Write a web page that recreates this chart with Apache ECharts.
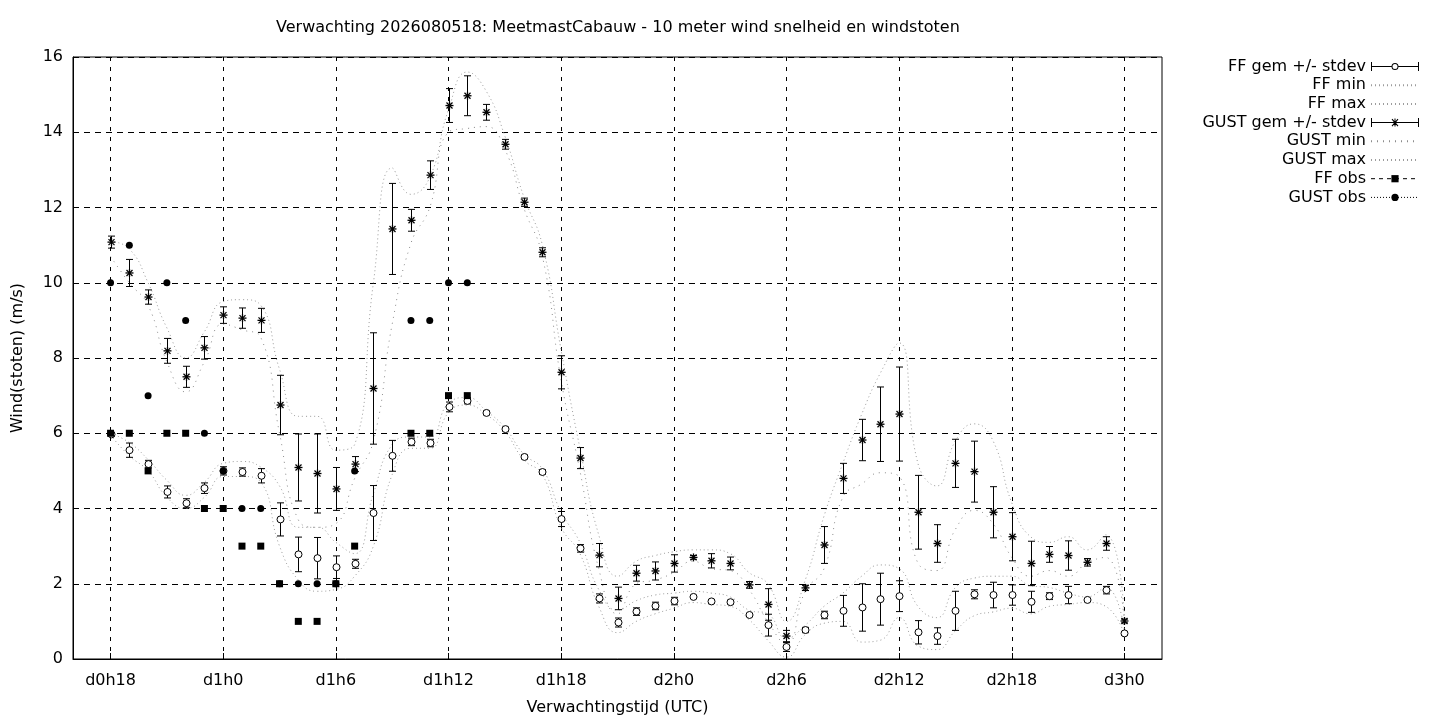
<!DOCTYPE html>
<html><head><meta charset="utf-8">
<script src="https://cdn.jsdelivr.net/npm/echarts@6/dist/echarts.min.js"></script>
<style>html,body{margin:0;padding:0;background:#fff}#c{width:1440px;height:720px}</style>
</head><body><div id="c"></div>
<script>
// x-axis categories: forecast hours d0h16 .. d3h2
const categories = ['d0h16','d0h17','d0h18','d0h19','d0h20','d0h21','d0h22','d0h23',
 'd1h0','d1h1','d1h2','d1h3','d1h4','d1h5','d1h6','d1h7','d1h8','d1h9','d1h10','d1h11',
 'd1h12','d1h13','d1h14','d1h15','d1h16','d1h17','d1h18','d1h19','d1h20','d1h21','d1h22','d1h23',
 'd2h0','d2h1','d2h2','d2h3','d2h4','d2h5','d2h6','d2h7','d2h8','d2h9','d2h10','d2h11',
 'd2h12','d2h13','d2h14','d2h15','d2h16','d2h17','d2h18','d2h19','d2h20','d2h21','d2h22','d2h23',
 'd3h0','d3h1','d3h2'];
const firstHour = 'd0h18';
const xTickLabels = ['d0h18','d1h0','d1h6','d1h12','d1h18','d2h0','d2h6','d2h12','d2h18','d3h0'];
const yTicks = [0,2,4,6,8,10,12,14,16];

// forecast series, hourly from d0h18 to d3h0
const ffMean = [5.97,5.55,5.18,4.44,4.14,4.54,5.00,4.97,4.87,3.71,
 2.78,2.68,2.44,2.53,3.88,5.40,5.77,5.74,6.70,6.86,
 6.54,6.11,5.37,4.97,3.72,2.94,1.61,0.97,1.26,1.41,
 1.54,1.65,1.53,1.51,1.17,0.90,0.32,0.77,1.17,1.28,
 1.37,1.59,1.67,0.71,0.61,1.28,1.72,1.70,1.70,1.52,
 1.67,1.70,1.57,1.83,0.68];
const ffSd = [0.05,0.19,0.10,0.16,0.12,0.14,0.11,0.11,0.19,0.44,
 0.46,0.55,0.30,0.12,0.73,0.41,0.10,0.10,0.13,0.08,
 0.05,0.05,0.05,0.06,0.20,0.10,0.12,0.12,0.10,0.10,
 0.10,0.04,0.05,0.05,0.03,0.29,0.12,0.07,0.10,0.41,
 0.63,0.69,0.41,0.31,0.22,0.52,0.12,0.34,0.27,0.28,
 0.09,0.23,0.03,0.10,0.05];
const ffMin = [5.95,5.40,5.00,4.30,4.00,4.30,4.85,4.85,4.70,3.00,
 2.10,1.80,1.85,2.20,3.00,4.90,5.60,5.60,6.55,6.75,
 6.50,6.05,5.30,4.90,3.50,2.80,1.40,0.70,1.00,1.20,
 1.35,1.50,1.45,1.40,1.05,0.50,0.05,0.65,0.95,1.00,
 0.45,0.50,1.10,0.35,0.25,0.75,1.15,1.25,1.35,1.20,
 1.40,1.45,1.50,1.40,0.65];
const ffMax = [6.00,5.75,5.30,4.75,4.35,4.70,5.20,5.25,5.10,4.60,
 3.50,3.50,3.10,2.80,4.40,5.70,5.90,5.90,6.80,6.95,
 6.60,6.15,5.45,5.05,3.90,3.10,1.85,1.30,1.55,1.70,
 1.75,1.80,1.75,1.65,1.30,1.20,0.55,0.90,1.40,1.75,
 2.20,2.50,2.40,1.40,1.10,1.90,2.15,2.20,2.20,1.95,
 1.90,1.75,1.65,1.90,0.75];
const gustMean = [11.08,10.26,9.62,8.19,7.50,8.27,9.14,9.06,9.00,6.75,
 5.09,4.93,4.52,5.18,7.19,11.43,11.66,12.86,14.71,14.97,
 14.53,13.68,12.14,10.81,7.62,5.34,2.76,1.61,2.28,2.34,
 2.54,2.70,2.61,2.54,1.97,1.45,0.61,1.89,3.03,4.80,
 5.82,6.24,6.51,3.90,3.07,5.20,4.98,3.90,3.25,2.54,
 2.78,2.75,2.57,3.07,1.01];
const gustSd = [0.16,0.36,0.19,0.33,0.28,0.30,0.22,0.27,0.32,0.79,
 0.89,1.05,0.57,0.20,1.48,1.21,0.29,0.38,0.45,0.53,
 0.21,0.13,0.11,0.12,0.44,0.28,0.31,0.30,0.21,0.24,
 0.23,0.05,0.19,0.17,0.09,0.42,0.15,0.07,0.49,0.40,
 0.55,0.99,1.25,0.98,0.50,0.64,0.81,0.68,0.64,0.59,
 0.21,0.39,0.10,0.18,0.05];
const gustMin = [10.70,10.00,9.40,7.90,7.10,7.90,8.90,8.75,8.55,6.00,
 3.70,3.50,3.60,4.80,5.80,8.90,11.05,12.00,14.00,14.10,
 14.15,13.55,12.00,10.70,7.40,5.00,2.40,1.20,2.00,2.10,
 2.30,2.60,2.40,2.35,1.85,1.00,0.40,1.80,2.40,4.30,
 4.65,4.95,4.85,2.55,2.35,3.45,3.95,3.60,2.70,2.20,
 2.35,2.20,2.55,2.70,0.95];
const gustMax = [11.10,10.90,10.00,8.80,8.00,8.70,9.50,9.55,9.40,7.70,
 6.45,6.45,5.55,5.70,10.00,13.05,12.35,12.80,14.60,15.60,
 15.10,13.90,12.30,11.00,8.20,5.60,3.30,2.20,2.60,2.75,
 2.85,2.90,2.90,2.80,2.30,2.00,1.00,2.10,3.80,5.20,
 6.50,7.60,8.40,5.20,4.60,5.80,6.25,5.80,4.15,3.25,
 3.10,3.25,2.90,3.30,1.10];
// observations, hourly from d0h18 to d1h13
const ffObs = [6,6,5,6,6,4,4,3,3,2,1,1,2,3,null,null,6,6,7,7];
const gustObs = [10,11,7,10,9,6,5,4,4,2,2,2,2,5,null,null,9,9,10,10];

const FONT = 'DejaVu Sans';
const FS = 16;
const off = categories.indexOf(firstHour);
const pairs = arr => arr.map((v, i) => v == null ? null : [i + off, v]).filter(d => d);
const triples = (m, s) => m.map((v, i) => [i + off, v, s[i]]);

function errRender(kind) {
  return function (params, api) {
    const i = api.value(0), m = api.value(1), s = api.value(2);
    const c = api.coord([i, m]);
    const t = api.coord([i, m + s]);
    const b = api.coord([i, m - s]);
    const x = Math.round(c[0]) + 0.5;
    const hw = 3.5;
    const st = {stroke: '#000', lineWidth: 1};
    const ch = [
      {type: 'line', shape: {x1: x, y1: t[1], x2: x, y2: b[1]}, style: st},
      {type: 'line', shape: {x1: x - hw, y1: t[1], x2: x + hw, y2: t[1]}, style: st},
      {type: 'line', shape: {x1: x - hw, y1: b[1], x2: x + hw, y2: b[1]}, style: st}
    ];
    const y = c[1];
    if (kind === 'ff') {
      ch.push({type: 'circle', shape: {cx: x, cy: y, r: 3.5}, style: {fill: '#fff', stroke: '#000', lineWidth: 1}});
    } else {
      const r = 4, d = 3;
      const sst = {stroke: '#000', lineWidth: 1.3};
      ch.push({type: 'line', shape: {x1: x - r, y1: y, x2: x + r, y2: y}, style: sst});
      ch.push({type: 'line', shape: {x1: x, y1: y - r, x2: x, y2: y + r}, style: sst});
      ch.push({type: 'line', shape: {x1: x - d, y1: y - d, x2: x + d, y2: y + d}, style: sst});
      ch.push({type: 'line', shape: {x1: x - d, y1: y + d, x2: x + d, y2: y - d}, style: sst});
    }
    return {type: 'group', children: ch};
  };
}

const ffIcon = 'path://M0 0H1V9H0Z M47 0H48V9H47Z M1 4H20.5V5H1Z M27.5 4H47V5H27.5Z ' +
  'M20.5 4.5A3.5 3.5 0 1 1 27.5 4.5A3.5 3.5 0 1 1 20.5 4.5Z M21.5 4.5A2.5 2.5 0 1 0 26.5 4.5A2.5 2.5 0 1 0 21.5 4.5Z';
const gustIcon = 'path://M0 0H1V9H0Z M47 0H48V9H47Z M1 4H47V5H1Z M23.5 0.5H24.5V8.5H23.5Z ' +
  'M20.6 1.4L21.4 0.6L27.4 7.6L26.6 8.4Z M26.6 0.6L27.4 1.4L21.4 8.4L20.6 7.6Z';
const noSymbol = {color: 'rgba(0,0,0,0)', opacity: 0, borderWidth: 0};

const isMajor = (idx) => xTickLabels.indexOf(categories[idx]) >= 0;

const lineCommon = {type: 'line', smooth: 0.5, symbol: 'none', silent: true, z: 2};
const GREY = '#9c9c9c';

const option = {
  animation: false,
  backgroundColor: '#fff',
  textStyle: {fontFamily: FONT, color: '#000'},
  title: {
    text: 'Verwachting 2026080518: MeetmastCabauw - 10 meter wind snelheid en windstoten',
    left: 276, top: 20, padding: 0,
    textStyle: {fontFamily: FONT, fontSize: FS, fontWeight: 'normal', color: '#000'}
  },
  grid: {left: 73, right: 278, top: 57, bottom: 61, show: true, borderColor: '#000', borderWidth: 1,
    containLabel: false, outerBoundsMode: 'none'},
  legend: {
    orient: 'vertical', right: 20, top: 58, align: 'right', padding: 0,
    itemWidth: 48, itemHeight: 9, itemGap: 1.7, selectedMode: false,
    textStyle: {fontFamily: FONT, fontSize: FS, color: '#000', lineHeight: 17},
    data: [
      {name: 'FF gem +/- stdev', icon: ffIcon},
      {name: 'FF min', itemStyle: noSymbol},
      {name: 'FF max', itemStyle: noSymbol},
      {name: 'GUST gem +/- stdev', icon: gustIcon},
      {name: 'GUST min', itemStyle: noSymbol},
      {name: 'GUST max', itemStyle: noSymbol},
      {name: 'FF obs', lineStyle: {width: 1, type: [4, 4], color: '#000', opacity: 1}},
      {name: 'GUST obs', lineStyle: {width: 1, type: [1, 2], color: '#000', opacity: 1}}
    ]
  },
  xAxis: {
    type: 'category', data: categories, boundaryGap: false,
    name: 'Verwachtingstijd (UTC)', nameLocation: 'middle', nameGap: 41,
    nameTextStyle: {fontFamily: FONT, fontSize: FS, color: '#000'},
    axisLine: {lineStyle: {color: '#000', width: 1}},
    axisTick: {show: true, inside: true, length: 6, interval: (i) => isMajor(i), lineStyle: {color: '#000'}},
    axisLabel: {interval: (i) => isMajor(i), margin: 14, fontFamily: FONT, fontSize: FS, color: '#000'},
    splitLine: {show: true, interval: (i) => isMajor(i), lineStyle: {color: '#000', width: 1, type: [4, 6]}}
  },
  yAxis: {
    type: 'value', min: yTicks[0], max: yTicks[yTicks.length - 1], interval: 2,
    name: 'Wind(stoten) (m/s)', nameLocation: 'middle', nameGap: 47,
    nameTextStyle: {fontFamily: FONT, fontSize: FS, color: '#000'},
    axisLine: {show: true, lineStyle: {color: '#000', width: 1}},
    axisTick: {show: true, inside: true, length: 6, lineStyle: {color: '#000'}},
    axisLabel: {margin: 10, fontFamily: FONT, fontSize: FS, color: '#000'},
    splitLine: {show: true, lineStyle: {color: '#000', width: 1, type: [6, 5]}}
  },
  series: [
    {name: 'FF gem +/- stdev', type: 'custom', renderItem: errRender('ff'), encode: {x: 0, y: 1},
      itemStyle: {color: '#000'}, data: triples(ffMean, ffSd), z: 4, silent: true},
    Object.assign({name: 'FF min', data: pairs(ffMin), itemStyle: {color: GREY},
      lineStyle: {color: GREY, width: 1, type: [1, 3]}}, lineCommon),
    Object.assign({name: 'FF max', data: pairs(ffMax), itemStyle: {color: GREY},
      lineStyle: {color: GREY, width: 1, type: [1, 3]}}, lineCommon),
    {name: 'GUST gem +/- stdev', type: 'custom', renderItem: errRender('gust'), encode: {x: 0, y: 1},
      itemStyle: {color: '#000'}, data: triples(gustMean, gustSd), z: 4, silent: true},
    Object.assign({name: 'GUST min', data: pairs(gustMin), itemStyle: {color: '#8c8c8c'},
      lineStyle: {color: '#8c8c8c', width: 1, type: [1, 5]}}, lineCommon),
    Object.assign({name: 'GUST max', data: pairs(gustMax), itemStyle: {color: GREY},
      lineStyle: {color: GREY, width: 1, type: [1, 3]}}, lineCommon),
    {name: 'FF obs', type: 'line', data: pairs(ffObs), symbol: 'rect', symbolSize: 7, showAllSymbol: true,
      itemStyle: {color: '#000'}, lineStyle: {width: 0, color: '#000'}, z: 5, silent: true},
    {name: 'GUST obs', type: 'line', data: pairs(gustObs), symbol: 'circle', symbolSize: 7, showAllSymbol: true,
      itemStyle: {color: '#000'}, lineStyle: {width: 0, color: '#000'}, z: 5, silent: true}
  ]
};
const chart = echarts.init(document.getElementById('c'));
chart.setOption(option);
</script>
</body></html>
